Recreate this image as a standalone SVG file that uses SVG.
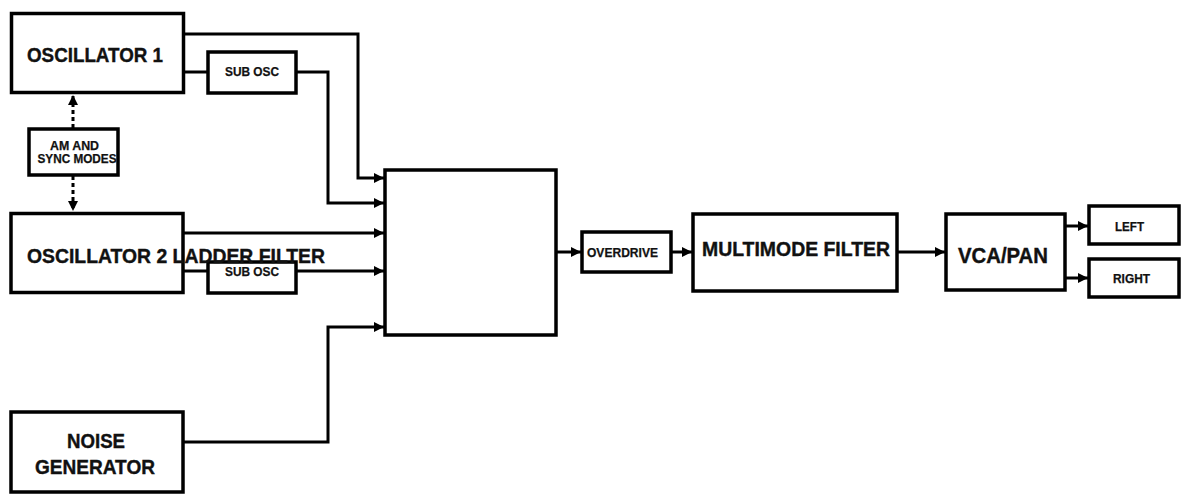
<svg xmlns="http://www.w3.org/2000/svg" width="1192" height="501" viewBox="0 0 1192 501">
<style>
.box{fill:#fff;stroke:#000;stroke-width:3.5}
.ln{fill:none;stroke:#000;stroke-width:3}
.dash{fill:none;stroke:#000;stroke-width:3;stroke-dasharray:4 3}
text{font-family:"Liberation Sans",Arial,Helvetica,sans-serif;font-weight:bold;fill:#111;stroke:#111;stroke-width:0.4;text-anchor:middle}
.big{font-size:20.5px}
.sm{font-size:12px;stroke-width:0.25}
</style>
<defs>
<marker id="ah" viewBox="0 0 10 10" refX="10" refY="5" markerWidth="10" markerHeight="10" markerUnits="userSpaceOnUse" orient="auto">
<path d="M0,0 L10,5 L0,10 Z" fill="#000"/>
</marker>
</defs>
<rect width="1192" height="501" fill="#fff"/>
<g id="connectors">
<path class="ln" d="M184,34 H358 V178 H384" marker-end="url(#ah)"/>
<path class="ln" d="M184,72 H207"/>
<path class="ln" d="M297,72 H328 V203 H384" marker-end="url(#ah)"/>
<path class="ln" d="M184,233 H384" marker-end="url(#ah)"/>
<path class="ln" d="M184,271 H207"/>
<path class="ln" d="M297,271 H384" marker-end="url(#ah)"/>
<path class="ln" d="M184,442 H328 V327 H384" marker-end="url(#ah)"/>
<path class="dash" d="M73,128 V95" marker-end="url(#ah)"/>
<path class="dash" d="M73,176 V211" marker-end="url(#ah)"/>
<path class="ln" d="M557,252 H581" marker-end="url(#ah)"/>
<path class="ln" d="M672,252 H692" marker-end="url(#ah)"/>
<path class="ln" d="M898,252 H945" marker-end="url(#ah)"/>
<path class="ln" d="M1066,226 H1088" marker-end="url(#ah)"/>
<path class="ln" d="M1066,278 H1088" marker-end="url(#ah)"/>
</g>
<g id="osc1">
<rect class="box" x="11.5" y="13.5" width="172" height="79"/>
<text class="big" x="95" y="61.5" textLength="136" lengthAdjust="spacingAndGlyphs">OSCILLATOR 1</text>
</g>
<g id="subosc1">
<rect class="box" x="208" y="52" width="88" height="41"/>
<text class="sm" x="252" y="76" textLength="54" lengthAdjust="spacingAndGlyphs">SUB OSC</text>
</g>
<g id="ammodes">
<rect class="box" x="29" y="129" width="89" height="46"/>
<text class="sm" x="74.5" y="150" textLength="49" lengthAdjust="spacingAndGlyphs">AM AND</text>
<text class="sm" x="77" y="163" textLength="79" lengthAdjust="spacingAndGlyphs">SYNC MODES</text>
</g>
<g id="subosc2">
<rect class="box" x="208" y="262" width="88" height="31"/>
<text class="sm" x="252" y="276" textLength="54" lengthAdjust="spacingAndGlyphs">SUB OSC</text>
</g>
<g id="osc2">
<rect class="box" x="11" y="213.5" width="172" height="79" style="fill:none"/>
<text class="big" x="176" y="262.5" textLength="298" lengthAdjust="spacingAndGlyphs">OSCILLATOR 2 LADDER FILTER</text>
</g>
<g id="noise">
<rect class="box" x="11" y="412" width="172" height="80"/>
<text class="big" x="96" y="448" textLength="58" lengthAdjust="spacingAndGlyphs">NOISE</text>
<text class="big" x="95" y="474" textLength="120" lengthAdjust="spacingAndGlyphs">GENERATOR</text>
</g>
<g id="mixer">
<rect class="box" x="385" y="170" width="171" height="165"/>
</g>
<g id="overdrive">
<rect class="box" x="582" y="232" width="89" height="40"/>
<text class="sm" x="622.5" y="256.5" style="font-size:12.5px" textLength="71" lengthAdjust="spacingAndGlyphs">OVERDRIVE</text>
</g>
<g id="multimode">
<rect class="box" x="693" y="214" width="204" height="77"/>
<text class="big" x="796" y="256" textLength="188" lengthAdjust="spacingAndGlyphs">MULTIMODE FILTER</text>
</g>
<g id="vcapan">
<rect class="box" x="946" y="214" width="119" height="76"/>
<text class="big" x="1003" y="263" style="font-size:22px" textLength="90" lengthAdjust="spacingAndGlyphs">VCA/PAN</text>
</g>
<g id="left">
<rect class="box" x="1089" y="206" width="90" height="38"/>
<text class="sm" x="1129.5" y="230.5" textLength="29" lengthAdjust="spacingAndGlyphs">LEFT</text>
</g>
<g id="right">
<rect class="box" x="1089" y="259" width="90" height="38"/>
<text class="sm" x="1131.5" y="282.5" textLength="37" lengthAdjust="spacingAndGlyphs">RIGHT</text>
</g>
</svg>
